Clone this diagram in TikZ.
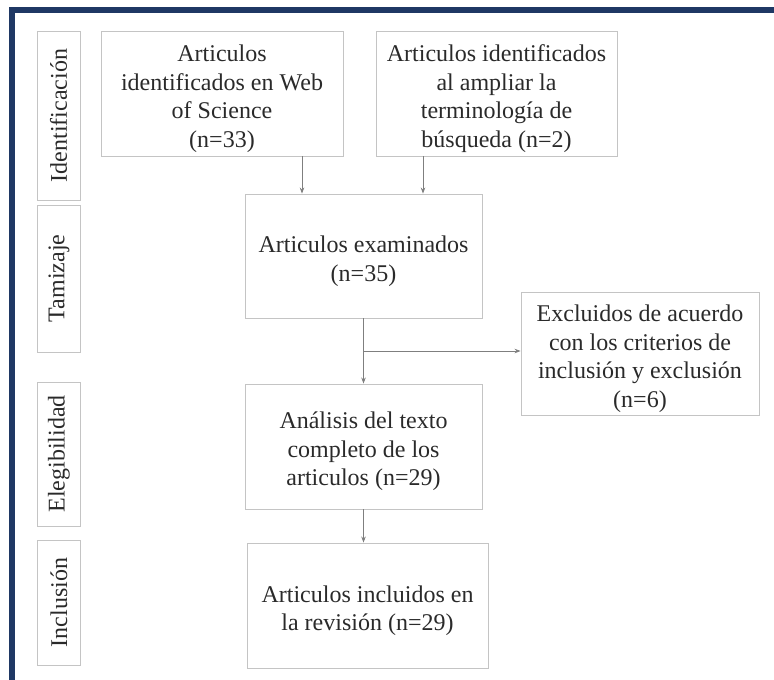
\documentclass[tikz,border=0pt]{standalone}
\usepackage{fontspec}
\setmainfont{Liberation Serif}
\usetikzlibrary{arrows.meta,calc}
\definecolor{navy}{HTML}{1F3864}
\definecolor{boxgray}{HTML}{C4C4C4}
\definecolor{arrgray}{HTML}{7F7F7F}
\definecolor{txt}{HTML}{2A2A2A}
\newcommand{\topst}{\rule{0pt}{27pt}}
\begin{document}
\begin{tikzpicture}[x=1pt,y=-1pt,
  flowbox/.style={draw=boxgray,line width=0.9pt,align=center,text=txt,
    font=\fontsize{24}{28.5}\selectfont,inner sep=2pt},
  stagebox/.style={draw=boxgray,line width=0.9pt,rotate=90,text=txt,
    font=\fontsize{24}{28.5}\selectfont,minimum height=43pt,inner sep=0pt},
  arr/.style={draw=arrgray,line width=0.7pt,-{Stealth[length=6pt,width=4.5pt]}}]
\useasboundingbox (0,0) rectangle (774,680);
\begin{scope}
\clip (0,0) rectangle (774,680);
\draw[navy,line width=5.5pt] (12,10) rectangle (800,720);
\end{scope}
% stage labels
\node[stagebox,minimum width=169pt] (s1) at (58.5,115.5) {Identificación};
\node[stagebox,minimum width=147pt] (s2) at (59,278.5) {Tamizaje};
\node[stagebox,minimum width=144pt] (s3) at (59,454) {Elegibilidad};
\node[stagebox,minimum width=125pt] (s4) at (59,602.5) {Inclusión};
% flow boxes
\node[flowbox,minimum width=242pt,minimum height=125pt] (A) at (222,93.5)
  {\topst Articulos\\identificados en Web\\of Science\\(n=33)};
\node[flowbox,minimum width=241pt,minimum height=125pt] (B) at (496.5,93.5)
  {\topst Articulos identificados\\al ampliar la\\terminología de\\búsqueda (n=2)};
\node[flowbox,minimum width=237pt,minimum height=124pt] (C) at (363.5,256)
  {\topst Articulos examinados\\(n=35)};
\node[flowbox,minimum width=238pt,minimum height=123pt] (E) at (640,353.5)
  {\topst Excluidos de acuerdo\\con los criterios de\\inclusión y exclusión\\(n=6)};
\node[flowbox,minimum width=237pt,minimum height=125pt] (D) at (363.5,446.5)
  {\topst Análisis del texto\\completo de los\\articulos (n=29)};
\node[flowbox,minimum width=241pt,minimum height=125pt] (F) at (367.5,605.5)
  {\topst Articulos incluidos en\\la revisión (n=29)};
% connectors
\draw[arr] ([xshift=80pt]A.south) -- ([xshift=80pt]A.south |- C.north);
\draw[arr] ([xshift=-73.5pt]B.south) -- ([xshift=-73.5pt]B.south |- C.north);
\coordinate (br) at ($(C.south)!0.5!(D.north)$);
\draw[arr] (C.south) -- (D.north);
\draw[arr] (br) -- (br -| E.west);
\draw[arr] (D.south) -- (D.south |- F.north);
\end{tikzpicture}
\end{document}
